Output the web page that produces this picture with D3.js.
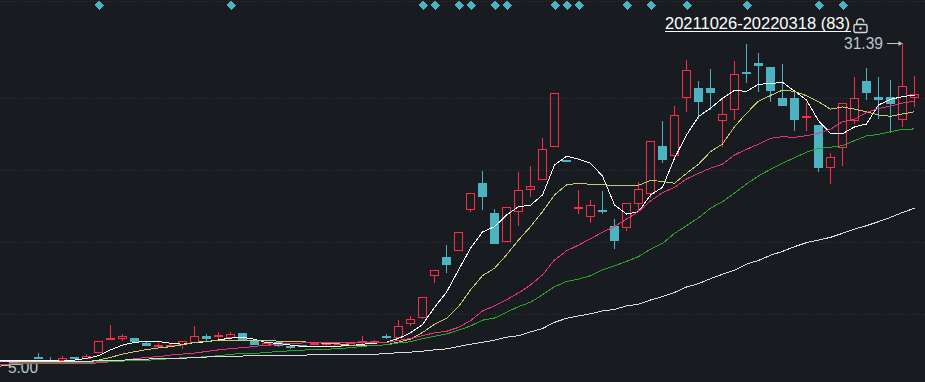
<!DOCTYPE html>
<html>
<head>
<meta charset="utf-8">
<script src="https://cdnjs.cloudflare.com/ajax/libs/d3/7.8.5/d3.min.js"></script>
<style>
html, body { margin: 0; padding: 0; background: #181c21; overflow: hidden; }
svg { display: block; }
text { font-family: "Liberation Sans", Arial, sans-serif; }
</style>
</head>
<body>
<svg id="chart" width="925" height="382"></svg>
<script>
// daily candles, index 0 is the leftmost bar
var candleOpen = [5.15,5.17,5.28,5.21,5.20,5.28,5.27,5.45,5.88,5.90,
    5.89,5.73,5.64,5.64,5.69,5.77,5.96,5.96,5.94,6.07,
    5.78,5.65,5.75,5.64,5.65,5.73,5.70,5.64,5.66,5.76,
    5.80,5.96,5.92,6.42,6.65,8.44,9.33,9.72,12.22,14.20,
    11.97,10.23,12.12,13.69,14.54,17.54,16.14,12.36,11.79,12.15,
    11.12,11.08,12.70,13.43,17.51,16.67,23.15,24.32,24.32,20.24,
    21.61,26.63,28.02,27.40,22.96,22.96,20.64,19.72,15.51,17.38,
    20.24,25.29,23.11,23.11,20.42,23.15];
var candleClose = [5.12,5.15,5.26,5.20,5.26,5.27,5.33,5.78,5.90,5.96,
    5.75,5.64,5.66,5.66,5.81,5.95,5.86,5.99,6.02,5.82,
    5.66,5.73,5.64,5.57,5.63,5.74,5.72,5.69,5.74,5.78,
    5.81,5.90,6.30,6.55,7.42,8.65,8.92,10.73,13.39,13.11,
    10.04,12.37,13.61,13.93,17.17,23.60,16.10,12.39,12.51,12.03,
    10.21,12.65,13.70,17.97,16.16,20.84,26.87,22.46,23.64,20.96,
    26.29,26.33,27.56,23.90,21.96,20.28,20.76,15.44,16.42,22.34,
    22.96,23.64,22.71,22.21,24.56,23.47];
var candleHigh = [5.17,5.19,5.42,5.30,5.32,5.28,5.37,5.78,6.34,6.03,
    5.89,5.76,5.74,5.70,5.81,6.31,6.04,6.10,6.10,6.07,
    5.78,5.82,5.77,5.67,5.66,5.75,5.74,5.69,5.74,5.96,
    5.82,6.03,6.52,6.68,7.42,8.65,9.98,10.73,13.39,15.18,
    12.24,12.37,15.10,15.63,18.30,23.60,16.14,13.64,12.89,13.56,
    11.56,12.65,14.25,17.97,20.17,21.96,28.49,25.29,27.07,23.15,
    28.34,31.22,29.66,27.40,27.87,24.03,22.34,19.72,16.83,22.34,
    25.89,27.22,25.89,25.43,31.39,26.04];
var candleLow = [5.09,5.12,5.22,5.19,5.18,5.23,5.25,5.41,5.85,5.80,
    5.72,5.64,5.62,5.62,5.53,5.75,5.80,5.85,5.86,5.82,
    5.66,5.65,5.60,5.54,5.62,5.72,5.63,5.64,5.66,5.70,
    5.77,5.86,5.92,6.31,6.58,8.06,8.54,9.65,12.06,12.17,
    10.04,10.23,11.14,13.11,14.54,17.41,16.10,11.90,11.31,11.90,
    9.75,10.80,12.06,13.06,15.89,16.45,21.23,20.39,21.46,17.44,
    20.28,25.02,23.77,22.46,21.96,19.05,19.05,15.10,14.12,15.63,
    19.83,22.71,20.39,18.84,19.50,21.84];

// moving averages, these start two bars before the first candle
var maWhite = [5.18,5.18,5.18,5.18,5.18,5.18,5.17,5.20,5.25,5.33,5.51,5.66,
    5.75,5.78,5.78,5.72,5.69,5.74,5.77,5.83,5.89,5.92,
    5.85,5.74,5.72,5.66,5.62,5.62,5.62,5.63,5.64,5.69,
    5.72,5.76,5.88,6.07,6.36,7.01,7.64,8.67,9.80,10.75,
    11.08,11.83,12.41,12.51,13.26,15.71,16.52,16.24,15.87,14.76,
    12.53,11.90,12.06,13.26,13.85,16.33,18.63,20.68,21.68,22.94,
    24.00,23.86,24.84,24.95,25.11,23.90,22.71,20.20,18.81,18.77,
    19.50,19.83,22.09,22.81,23.15,23.37];
var maYellow = [5.01,5.03,5.07,5.10,5.13,5.15,5.15,5.14,5.13,5.20,5.28,5.38,
    5.45,5.52,5.57,5.61,5.67,5.75,5.78,5.81,5.82,5.82,
    5.80,5.81,5.79,5.77,5.77,5.74,5.72,5.70,5.66,5.65,
    5.65,5.67,5.76,5.85,6.08,6.37,6.59,7.04,7.74,8.39,
    8.75,9.44,10.27,11.08,12.06,13.26,14.04,14.17,14.09,14.04,
    14.01,14.01,14.01,14.40,14.32,14.17,14.99,15.78,16.95,17.71,
    19.53,21.07,22.58,23.31,24.03,23.86,23.28,22.50,21.57,21.84,
    21.57,21.25,20.87,20.72,20.99,21.25];
var maPink = [5.08,5.08,5.09,5.09,5.09,5.09,5.09,5.09,5.09,5.12,5.15,5.18,
    5.24,5.28,5.30,5.35,5.38,5.41,5.46,5.51,5.55,5.58,
    5.62,5.66,5.69,5.71,5.73,5.75,5.75,5.75,5.75,5.75,
    5.74,5.75,5.81,5.88,5.97,6.07,6.12,6.26,6.50,6.87,
    7.07,7.32,7.61,7.96,8.43,9.17,9.66,9.98,10.35,10.73,
    11.08,11.57,12.06,12.82,13.43,13.85,14.52,14.99,15.43,15.80,
    16.64,17.18,17.68,18.28,18.45,18.39,18.56,18.81,19.25,20.09,
    20.37,21.17,21.64,21.96,22.32,22.59];
var maGreen = [5.15,5.15,5.15,5.13,5.13,5.13,5.13,5.13,5.13,5.15,5.15,5.17,
    5.19,5.19,5.22,5.24,5.27,5.28,5.30,5.33,5.37,5.40,
    5.40,5.43,5.46,5.48,5.50,5.53,5.53,5.55,5.58,5.62,
    5.65,5.67,5.73,5.77,5.87,5.95,6.03,6.16,6.31,6.52,
    6.60,6.82,7.04,7.22,7.53,7.88,8.12,8.23,8.39,8.67,
    8.87,9.10,9.35,9.75,10.08,10.66,11.14,11.65,12.30,12.77,
    13.40,14.12,14.77,15.34,15.87,16.38,16.89,17.28,17.38,17.54,
    18.05,18.53,18.70,18.98,19.25,19.28];
var maGray = [5.16,5.16,5.16,5.16,5.16,5.16,5.16,5.16,5.16,5.19,5.20,5.20,
    5.21,5.23,5.24,5.24,5.25,5.28,5.29,5.31,5.32,5.32,
    5.34,5.34,5.34,5.34,5.34,5.37,5.37,5.37,5.37,5.37,
    5.37,5.40,5.42,5.44,5.47,5.51,5.54,5.62,5.69,5.75,
    5.82,5.92,5.97,6.10,6.22,6.44,6.59,6.68,6.76,6.87,
    6.93,7.07,7.14,7.31,7.45,7.63,7.87,8.02,8.25,8.46,
    8.66,8.96,9.15,9.42,9.63,9.89,10.12,10.27,10.43,10.67,
    10.93,11.14,11.40,11.68,12.01,12.30];

// bars that carry a marker in the top row
var signalDays = [7,18,34,35,37,38,40,41,45,46,47,51,53,56,61,67,69];
var gridPrices = [6.74,10.14,15.24,22.92,39.8];
var rangeLabel = "20211026-20220318 (83)";
var highLabel = "31.39";
var lowLabel = "5.00";

var width = 925, height = 382;
var red = "#ff2b45", teal = "#4cb3c1", labelColor = "#b9c6d0";

var svg = d3.select("#chart");

var x = d3.scaleLinear().domain([0, 75]).range([14.5, 914.5]);
var y = d3.scaleLog().domain([5, 31.39]).range([367, 43]);
var snap = function (v) { return Math.round(v - 0.5) + 0.5; };

// dotted price grid
svg.append("g").selectAll("line").data(gridPrices).enter().append("line")
    .attr("x1", 0).attr("x2", width)
    .attr("y1", function (d) { return snap(y(d)); })
    .attr("y2", function (d) { return snap(y(d)); })
    .attr("stroke", "#2f3338")
    .attr("stroke-dasharray", "1 2");

// low label sits under the lines in the original
svg.append("text")
    .attr("x", 8).attr("y", y(5) + 6)
    .attr("font-size", 16.5)
    .attr("textLength", 30)
    .attr("lengthAdjust", "spacingAndGlyphs")
    .attr("fill", labelColor)
    .text(lowLabel);

// candles
var candles = d3.range(candleOpen.length).map(function (i) {
    return { i: i, o: candleOpen[i], h: candleHigh[i], l: candleLow[i], c: candleClose[i] };
});
var isUp = function (d) { return d.c >= d.o; };
var bodyTop = function (d) { return Math.round(y(Math.max(d.o, d.c))); };
var bodyBottom = function (d) { return Math.round(y(Math.min(d.o, d.c))); };

var gCandle = svg.append("g").attr("shape-rendering", "crispEdges");
var candle = gCandle.selectAll("g").data(candles).enter().append("g")
    .attr("stroke", function (d) { return isUp(d) ? red : teal; });

// wick is split so the red bodies stay hollow
candle.append("line")
    .attr("x1", function (d) { return x(d.i); })
    .attr("x2", function (d) { return x(d.i); })
    .attr("y1", function (d) { return Math.round(y(d.h)); })
    .attr("y2", bodyTop);
candle.append("line")
    .attr("x1", function (d) { return x(d.i); })
    .attr("x2", function (d) { return x(d.i); })
    .attr("y1", bodyBottom)
    .attr("y2", function (d) { return Math.round(y(d.l)); });

candle.filter(isUp).append("rect")
    .attr("x", function (d) { return x(d.i) - 4; })
    .attr("width", 8)
    .attr("y", function (d) { return bodyTop(d) + 0.5; })
    .attr("height", function (d) { return Math.max(1, bodyBottom(d) - bodyTop(d)); })
    .attr("fill", "none")
    .attr("stroke-width", 1.3);
candle.filter(function (d) { return !isUp(d); }).append("rect")
    .attr("x", function (d) { return x(d.i) - 4.5; })
    .attr("width", 9)
    .attr("y", bodyTop)
    .attr("height", function (d) { return Math.max(2, bodyBottom(d) - bodyTop(d)); })
    .attr("fill", teal)
    .attr("stroke", "none");

// moving averages
var maLine = d3.line()
    .x(function (d, i) { return x(i - 2); })
    .y(function (d) { return y(d); });
var maSeries = [
    { values: maWhite, color: "#ffffff" },
    { values: maYellow, color: "#c9c973" },
    { values: maPink, color: "#e8327a" },
    { values: maGreen, color: "#27a62c" },
    { values: maGray, color: "#dcdcdc" }
];
svg.append("g").selectAll("path").data(maSeries).enter().append("path")
    .attr("d", function (d) { return maLine(d.values); })
    .attr("fill", "none")
    .attr("stroke", function (d) { return d.color; })
    .attr("stroke-width", 1)
    .attr("shape-rendering", "crispEdges");

// signal markers along the top
var diamond = "M0,-4.8L4.8,0L0,4.8L-4.8,0Z";
svg.append("g").selectAll("path").data(signalDays).enter().append("path")
    .attr("d", diamond)
    .attr("transform", function (d) { return "translate(" + (x(d) + 0.8) + ",5.3)"; })
    .attr("fill", teal)
    .attr("shape-rendering", "crispEdges");

// selected range label with lock
svg.append("text")
    .attr("x", 665).attr("y", 29)
    .attr("font-size", 17.3)
    .attr("textLength", 185)
    .attr("lengthAdjust", "spacingAndGlyphs")
    .attr("fill", "#ffffff")
    .text(rangeLabel);
svg.append("line")
    .attr("x1", 665).attr("x2", 851)
    .attr("y1", 31.5).attr("y2", 31.5)
    .attr("stroke", "#ffffff");

var lock = svg.append("g")
    .attr("transform", "translate(853,18)")
    .attr("fill", "none")
    .attr("stroke", "#d8d8d8")
    .attr("stroke-width", 1.4);
lock.append("rect").attr("x", 1).attr("y", 6.5).attr("width", 13).attr("height", 8).attr("rx", 1.5);
lock.append("path").attr("d", "M3.8,6.5V4.2C3.8,0 10.8,0 10.8,4.2");
lock.append("circle").attr("cx", 7.5).attr("cy", 10.5).attr("r", 0.6);

// high label with its arrow
var highDay = candleHigh.indexOf(d3.max(candleHigh));
svg.append("text")
    .attr("x", 844).attr("y", y(d3.max(candleHigh)) + 6)
    .attr("font-size", 17)
    .attr("textLength", 39)
    .attr("lengthAdjust", "spacingAndGlyphs")
    .attr("fill", labelColor)
    .text(highLabel);
svg.append("line")
    .attr("x1", 887).attr("x2", x(highDay) - 2)
    .attr("y1", snap(y(d3.max(candleHigh)))).attr("y2", snap(y(d3.max(candleHigh))))
    .attr("stroke", "#c8c8c8");
svg.append("path")
    .attr("d", "M0,-2.5L4,0L0,2.5Z")
    .attr("transform", "translate(" + (x(highDay) - 4) + "," + snap(y(d3.max(candleHigh))) + ")")
    .attr("fill", "#c8c8c8");
</script>
</body>
</html>
